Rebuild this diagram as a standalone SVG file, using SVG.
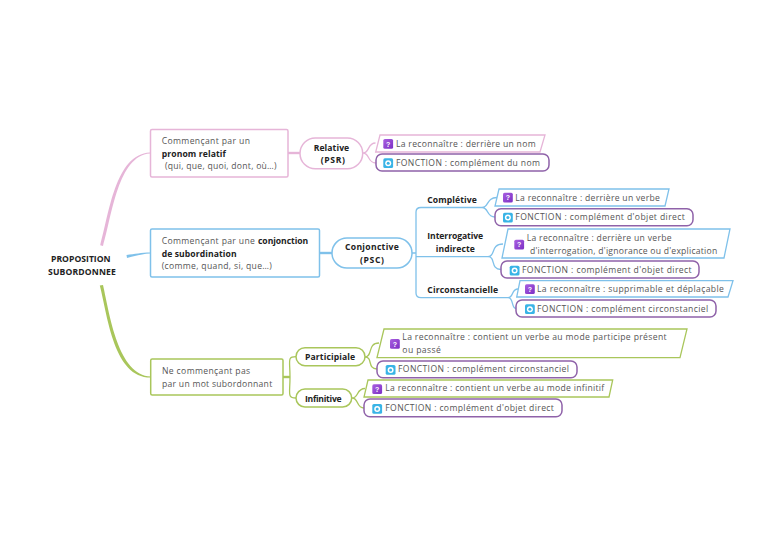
<svg xmlns="http://www.w3.org/2000/svg" width="768" height="543" viewBox="0 0 768 543">
<style>
text{font-family:"Open Sans","Liberation Sans",sans-serif;font-size:8.6px;fill:#555;letter-spacing:.1px}
.b{font-weight:700;fill:#222}
.q{font-family:"Liberation Sans",sans-serif;font-size:7px;font-weight:700;fill:#fff;text-anchor:middle;letter-spacing:0}
rect,polygon{fill:#fff}
.pk{stroke:#e6b5d8;fill:none}
.bl{stroke:#7fc1ea;fill:none}
.gr{stroke:#a9c65b;fill:none}
.n{stroke-width:1.5}
.pu{stroke:#8f62a9;stroke-width:1.5;fill:#fff}
.l{stroke-width:1.3;fill:none}
.t{stroke-width:2.4;fill:none}
.ib{fill:#39b4e6}
.ir{fill:#fff}
.id{fill:#39b4e6}
.iq{fill:url(#g)}
</style>
<defs>
<linearGradient id="g" x1="0" y1="0" x2="1" y2="1"><stop offset="0" stop-color="#a95fe0"/><stop offset="1" stop-color="#7b2fc4"/></linearGradient>
<g id="fi"><rect class="ib" width="9.800" height="9.800" rx="1.600"/><circle class="ir" cx="4.900" cy="4.900" r="3"/><circle class="id" cx="4.900" cy="4.900" r="1.500"/></g>
<rect id="qi" class="iq" width="9.800" height="9.800" rx="1.600"/>
</defs>
<g id="connectors">
<path d="M100.200 245.200C109 215 115 154 150 152.600L150 153.600C118 155.500 112 216 103 246Z" fill="#e6b5d8"/>
<path d="M126.500 255C135 254 141 252.600 150.500 252.500L150.500 253.500C141 254 135 256 127 258Z" fill="#7fc1ea"/>
<path d="M99.800 285.500L103 285C110 316 118 375 151 376.600L151 377.600C114 378 108 318 99.800 285.500Z" fill="#a9c65b"/>
<path class="pk t" d="M288 153H300"/>
<path class="pk l" d="M363 153C370 153 367 143 375.500 143M363 153C370 153 367 163 376 163"/>
<path class="bl t" d="M320 253H332"/>
<path class="bl l" d="M412 253H416M416 253V212Q416 207.500 421 207.500H482M416 253V256.700H488M416 256V293Q416 297.700 421 297.700H508"/>
<path class="bl l" d="M482 207.500C489 207.500 486 197.500 497 197.500M482 207.500C489 207.500 486 217 495 217"/>
<path class="bl l" d="M488 256.700C496 256.700 490 244 503 244M488 256.700C496 256.700 490 269.500 501 269.500"/>
<path class="bl l" d="M508 297.700C514 297.700 511 289 518 289M508 297.700C514 297.700 511 308.500 516 308.500"/>
<path class="gr t" d="M283 377H290"/>
<path class="gr l" d="M290 377C290 360 287 356.700 296 356.700M290 377C290 394 287 398 296 398"/>
<path class="gr l" d="M365 357C373 357 367 343 379 343M365 357C373 357 367 369 377 369"/>
<path class="gr l" d="M352 398C359 398 356 388.500 365 388.500M352 398C359 398 356 408 364 408"/>
</g>
<g id="root"><text class="b" x="51" y="262" textLength="59.700">PROPOSITION</text><text class="b" x="48" y="275" textLength="68">SUBORDONNEE</text></g>
<g id="n-psr-box"><rect class="pk n" style="fill:#fff" x="150.500" y="129.500" width="137.500" height="47.500" rx="1.500"/>
<text x="161.700" y="144" textLength="88.300">Commençant par un</text><text class="b" x="161.700" y="156.700" textLength="64.300">pronom relatif</text><text x="165" y="169" textLength="111.700">(qui, que, quoi, dont, où…)</text></g>
<g id="n-psr"><rect class="pk n" style="fill:#fff" x="300" y="138" width="62.700" height="30.700" rx="15.300"/><text class="b" x="313.700" y="150.700" textLength="35.600">Relative</text><text class="b" x="320.700" y="163" textLength="24.300">(PSR)</text></g>
<g id="n-psr-a"><polygon class="pk l" style="fill:#fff" points="380,135 545,135 540,152 375.700,152"/><use href="#qi" x="383.300" y="139"/><text class="q" x="388.200" y="146.500">?</text><text x="396" y="147" textLength="139.700">La reconnaître : derrière un nom</text></g>
<g id="n-psr-b"><rect class="pu" x="376" y="154" width="173" height="17" rx="6"/><use href="#fi" x="383.300" y="158.300"/><text x="396" y="166" textLength="144">FONCTION : complément du nom</text></g>
<g id="n-psc-box"><rect class="bl n" style="fill:#fff" x="150.500" y="229" width="169" height="48" rx="1.500"/>
<text x="161.700" y="243.700" textLength="93.300">Commençant par une</text><text class="b" x="258" y="243.700" textLength="50.300">conjonction</text><text class="b" x="161.700" y="256.500" textLength="75">de subordination</text><text x="161.700" y="269" textLength="110.300">(comme, quand, si, que…)</text></g>
<g id="n-psc"><rect class="bl n" style="fill:#fff" x="332" y="238" width="80" height="30" rx="15"/><text class="b" x="345" y="250" textLength="54">Conjonctive</text><text class="b" x="360" y="263" textLength="24">(PSC)</text></g>
<g id="n-comp"><text class="b" x="427.300" y="203" textLength="49.700">Complétive</text></g>
<g id="n-comp-a"><polygon class="bl l" style="fill:#fff" points="499,189 669,189 665,206 495,206"/><use href="#qi" x="503" y="192.700"/><text class="q" x="507.900" y="200.200">?</text><text x="515.300" y="201" textLength="144.700">La reconnaître : derrière un verbe</text></g>
<g id="n-comp-b"><rect class="pu" x="495" y="208.700" width="198" height="17" rx="6"/><use href="#fi" x="503" y="212.700"/><text x="515.300" y="220.300" textLength="169.700">FONCTION : complément d'objet direct</text></g>
<g id="n-int"><text class="b" x="427.300" y="238.700" textLength="56">Interrogative</text><text class="b" x="435.700" y="251.700" textLength="39.300">indirecte</text></g>
<g id="n-int-a"><polygon class="bl l" style="fill:#fff" points="508,229 730,229 724,258 502,258"/><use href="#qi" x="514.300" y="239.700"/><text class="q" x="519.200" y="247.200">?</text><text x="526.700" y="241" textLength="145">La reconnaître : derrière un verbe</text><text x="530" y="253.700" textLength="187.300">d'interrogation, d'ignorance ou d'explication</text></g>
<g id="n-int-b"><rect class="pu" x="501" y="261" width="198" height="17" rx="6"/><use href="#fi" x="509.700" y="265.700"/><text x="522" y="273" textLength="169.700">FONCTION : complément d'objet direct</text></g>
<g id="n-cir"><text class="b" x="427.300" y="293.300" textLength="71">Circonstancielle</text></g>
<g id="n-cir-a"><polygon class="bl l" style="fill:#fff" points="520,280.700 733,280.700 728,297 516.700,297"/><use href="#qi" x="525" y="284.300"/><text class="q" x="529.900" y="291.800">?</text><text x="537" y="292" textLength="187">La reconnaître : supprimable et déplaçable</text></g>
<g id="n-cir-b"><rect class="pu" x="516" y="300" width="200" height="17" rx="6"/><use href="#fi" x="525" y="304.300"/><text x="537" y="311.700" textLength="171.300">FONCTION : complément circonstanciel</text></g>
<g id="n-non-box"><rect class="gr n" style="fill:#fff" x="150.700" y="359" width="132.300" height="36" rx="1.500"/><text x="162" y="374.300" textLength="88.300">Ne commençant pas</text><text x="162" y="387" textLength="110.300">par un mot subordonnant</text></g>
<g id="n-par"><rect class="gr n" style="fill:#fff" x="296" y="347.700" width="69" height="18" rx="9"/><text class="b" x="305" y="360" textLength="50.300">Participiale</text></g>
<g id="n-par-a"><polygon class="gr l" style="fill:#fff" points="384,329 687,329 680,357.700 377,357.700"/><use href="#qi" x="390" y="339"/><text class="q" x="394.900" y="346.500">?</text><text x="402.300" y="340" textLength="264.400">La reconnaître : contient un verbe au mode participe présent</text><text x="402.300" y="353" textLength="38.700">ou passé</text></g>
<g id="n-par-b"><rect class="pu" x="377" y="361" width="200" height="16.700" rx="6"/><use href="#fi" x="385.700" y="365"/><text x="398" y="372" textLength="171">FONCTION : complément circonstanciel</text></g>
<g id="n-inf"><rect class="gr n" style="fill:#fff" x="296" y="389" width="55.700" height="18" rx="9"/><text class="b" x="305" y="401.700" textLength="36.700">Infinitive</text></g>
<g id="n-inf-a"><polygon class="gr l" style="fill:#fff" points="368,380 612.700,380 609,397 364,397"/><use href="#qi" x="372.300" y="384.300"/><text class="q" x="377.200" y="391.800">?</text><text x="385.300" y="391.300" textLength="219">La reconnaître : contient un verbe au mode infinitif</text></g>
<g id="n-inf-b"><rect class="pu" x="364" y="399" width="198" height="17.700" rx="6"/><use href="#fi" x="372.300" y="404"/><text x="385.300" y="411" textLength="168.700">FONCTION : complément d'objet direct</text></g>
</svg>
